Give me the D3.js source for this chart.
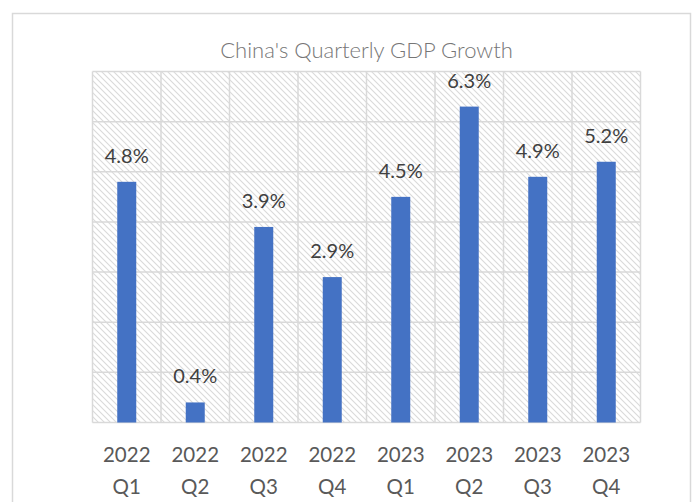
<!DOCTYPE html>
<html>
<head>
<meta charset="utf-8">
<script src="https://cdn.jsdelivr.net/npm/d3@7"></script>
<style>
  html, body { margin: 0; padding: 0; background: #fff; }
  svg { display: block; }
</style>
</head>
<body>
<script>
// Quarterly real GDP growth, year over year (%)
const years = ["2022", "2022", "2022", "2022", "2023", "2023", "2023", "2023"];
const quarters = ["Q1", "Q2", "Q3", "Q4", "Q1", "Q2", "Q3", "Q4"];
const growth = [4.8, 0.4, 3.9, 2.9, 4.5, 6.3, 4.9, 5.2];
const yTicks = [0, 1, 2, 3, 4, 5, 6, 7];
const title = "China's Quarterly GDP Growth";

const W = 693, H = 502;
const plot = { left: 92.5, right: 640.5, top: 71.5, bottom: 422.5 };
const FONT = "Lato, 'Open Sans', sans-serif";

const svg = d3.select("body").append("svg")
  .attr("width", W).attr("height", H);

// diagonal hatch fill behind the plot
const defs = svg.append("defs");
const pat = defs.append("pattern")
  .attr("id", "hatch")
  .attr("patternUnits", "userSpaceOnUse")
  .attr("width", 6).attr("height", 6);
pat.append("rect").attr("width", 6).attr("height", 6).attr("fill", "#fff");
pat.append("path")
  .attr("d", "M-1,-1 L7,7 M-1,5 L1,7 M5,-1 L7,1")
  .attr("stroke", "#dadada").attr("stroke-width", 1.1);

// outer chart frame
svg.append("rect")
  .attr("x", 12.5).attr("y", 13.5)
  .attr("width", 678).attr("height", 500)
  .attr("fill", "#fff").attr("stroke", "#d9d9d9").attr("stroke-width", 1.5);

const idx = growth.map((_, i) => i);
const x = d3.scaleBand().domain(idx).range([plot.left, plot.right]).paddingInner(0).paddingOuter(0);
const y = d3.scaleLinear().domain([0, 7]).range([plot.bottom, plot.top]);

svg.append("rect")
  .attr("x", plot.left).attr("y", plot.top)
  .attr("width", plot.right - plot.left).attr("height", plot.bottom - plot.top)
  .attr("fill", "url(#hatch)");

// horizontal gridlines
svg.append("g").selectAll("line").data(yTicks).join("line")
  .attr("x1", plot.left).attr("x2", plot.right)
  .attr("y1", d => y(d)).attr("y2", d => y(d))
  .attr("stroke", "#d9d9d9").attr("stroke-width", 1.5);

// vertical category separators
const seps = idx.map(i => x(i)).concat([plot.right]);
svg.append("g").selectAll("line").data(seps).join("line")
  .attr("x1", d => d).attr("x2", d => d)
  .attr("y1", plot.top).attr("y2", plot.bottom)
  .attr("stroke", "#d9d9d9").attr("stroke-width", 1.5);

// bars
const barW = 19;
svg.append("g").selectAll("rect").data(idx).join("rect")
  .attr("x", i => x(i) + x.bandwidth() / 2 - barW / 2)
  .attr("y", i => y(growth[i]))
  .attr("width", barW)
  .attr("height", i => y(0) - y(growth[i]))
  .attr("fill", "#4472C4");

// value labels
svg.append("g").selectAll("text").data(idx).join("text")
  .attr("x", i => x(i) + x.bandwidth() / 2)
  .attr("y", i => y(growth[i]) - 19)
  .attr("text-anchor", "middle")
  .attr("font-family", FONT).attr("font-size", 20)
  .attr("fill", "#404040")
  .text(i => growth[i].toFixed(1) + "%");

// category labels (year over quarter)
const xl = svg.append("g").selectAll("text").data(idx).join("text")
  .attr("text-anchor", "middle")
  .attr("font-family", FONT).attr("font-size", 20.5)
  .attr("fill", "#595959");
xl.append("tspan")
  .attr("x", i => x(i) + x.bandwidth() / 2).attr("y", 462)
  .text(i => years[i]);
xl.append("tspan")
  .attr("x", i => x(i) + x.bandwidth() / 2).attr("y", 494)
  .text(i => quarters[i]);

// title
svg.append("text")
  .attr("x", (plot.left + plot.right) / 2).attr("y", 58)
  .attr("text-anchor", "middle")
  .attr("font-family", FONT).attr("font-size", 22).attr("font-weight", 300)
  .attr("fill", "#767676")
  .text(title);
</script>
</body>
</html>
